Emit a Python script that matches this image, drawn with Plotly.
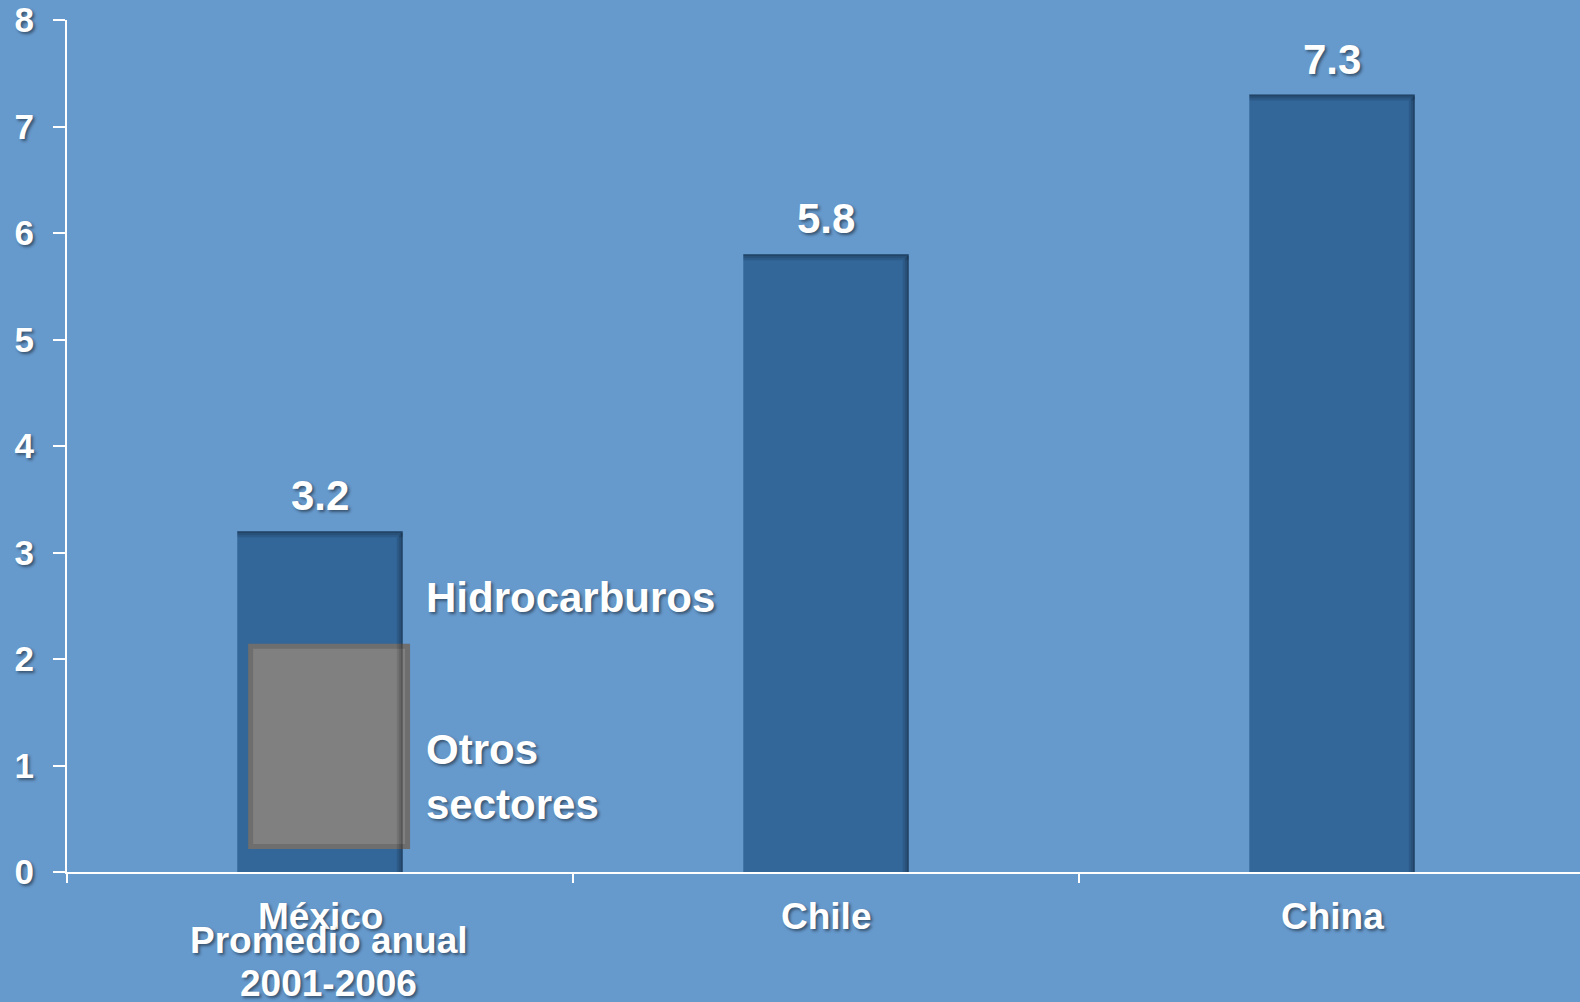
import plotly.graph_objects as go

categories = ["México", "Chile", "China"]
values = [3.2, 5.8, 7.3]
value_labels = ["3.2", "5.8", "7.3"]

otros_base = [0.24]
otros_top = [2.12]
otros_label = "Otros<br>sectores"
hidro_label = "Hidrocarburos"
mexico_sub = ["Promedio anual", "2001-2006"]

y_ticks = [0, 1, 2, 3, 4, 5, 6, 7, 8]

BG = "#6699CC"
BAR = "#336699"
FONT = "Liberation Sans, Arial, sans-serif"
SHADOW = "2px 2px 3px rgba(0,0,0,0.45)"
BAR_W = 0.327

fig = go.Figure()
fig.add_trace(go.Bar(
    x=categories, y=values, width=BAR_W,
    marker=dict(color=BAR, line=dict(width=0)),
    hoverinfo="skip", showlegend=False,
))
fig.add_trace(go.Bar(
    x=[categories[0]], base=otros_base,
    y=[t - b for t, b in zip(otros_top, otros_base)],
    width=0.31, offset=-0.137,
    marker=dict(color="#808080", line=dict(color="#6e6e6e", width=5)),
    hoverinfo="skip", showlegend=False,
))

# inner shadow effect on the bars (top and right edges)
shapes = []
px_x = 1 / 506.0
px_y = 1 / 106.5
for i, v in enumerate(values):
    for k, op in enumerate([0.32, 0.2, 0.1]):
        shapes.append(dict(type="rect", xref="x", yref="y", layer="above",
                           x0=i - BAR_W / 2, x1=i + BAR_W / 2,
                           y0=v - (k + 1) * 2 * px_y, y1=v - k * 2 * px_y,
                           fillcolor=f"rgba(0,0,0,{op})", line=dict(width=0)))
        shapes.append(dict(type="rect", xref="x", yref="y", layer="above",
                           x0=i + BAR_W / 2 - (k + 1) * 2 * px_x, x1=i + BAR_W / 2 - k * 2 * px_x,
                           y0=0, y1=v - (k + 1) * 2 * px_y,
                           fillcolor=f"rgba(0,0,0,{op})", line=dict(width=0)))

ann = []
for c, v, t in zip(categories, values, value_labels):
    ann.append(dict(x=c, y=v, text=t, showarrow=False, xanchor="center",
                    yanchor="bottom", yshift=10,
                    font=dict(size=42, color="white", family=FONT, weight="bold", shadow=SHADOW)))
for c in categories:
    ann.append(dict(x=c, y=0, text=c, showarrow=False, xanchor="center",
                    yanchor="middle", yshift=-44,
                    font=dict(size=37, color="white", family=FONT, weight="bold", shadow=SHADOW)))
for s, sh in zip(mexico_sub, [-68, -111]):
    ann.append(dict(x=0.017, y=0, text=s, showarrow=False, xanchor="center",
                    yanchor="middle", yshift=sh,
                    font=dict(size=37, color="white", family=FONT, weight="bold", shadow=SHADOW)))
ann.append(dict(x=0.205, y=2.58, text=hidro_label, showarrow=False, xanchor="left",
                yanchor="middle",
                font=dict(size=42, color="white", family=FONT, weight="bold", shadow=SHADOW)))
ann.append(dict(x=0.205, y=0.89, text=otros_label, showarrow=False, xanchor="left",
                yanchor="middle", align="left",
                font=dict(size=42, color="white", family=FONT, weight="bold", shadow=SHADOW)))

fig.update_layout(
    width=1580, height=1002,
    margin=dict(l=67, r=0, t=20, b=130),
    paper_bgcolor=BG, plot_bgcolor=BG,
    barmode="overlay",
    annotations=ann,
    shapes=shapes,
    xaxis=dict(
        type="category", range=[-0.5, 2.49],
        showline=True, linecolor="white", linewidth=2,
        ticks="outside", tickson="boundaries", ticklen=9, tickcolor="white", tickwidth=2,
        showticklabels=False, showgrid=False, zeroline=False, fixedrange=True,
    ),
    yaxis=dict(
        range=[0, 8], tickvals=y_ticks, ticktext=[str(v) for v in y_ticks],
        showline=True, linecolor="white", linewidth=2,
        ticks="outside", ticklen=12, tickcolor="white", tickwidth=2,
        ticklabelstandoff=12,
        tickfont=dict(size=35, color="white", family=FONT, weight="bold", shadow=SHADOW),
        showgrid=False, zeroline=False,
    ),
)

fig.write_html(
    "out.html",
    config={"displayModeBar": False},
    post_script="document.body.style.margin='0';document.body.style.padding='0';"
                "document.body.style.background='#6699CC';document.body.style.overflow='hidden';",
)
